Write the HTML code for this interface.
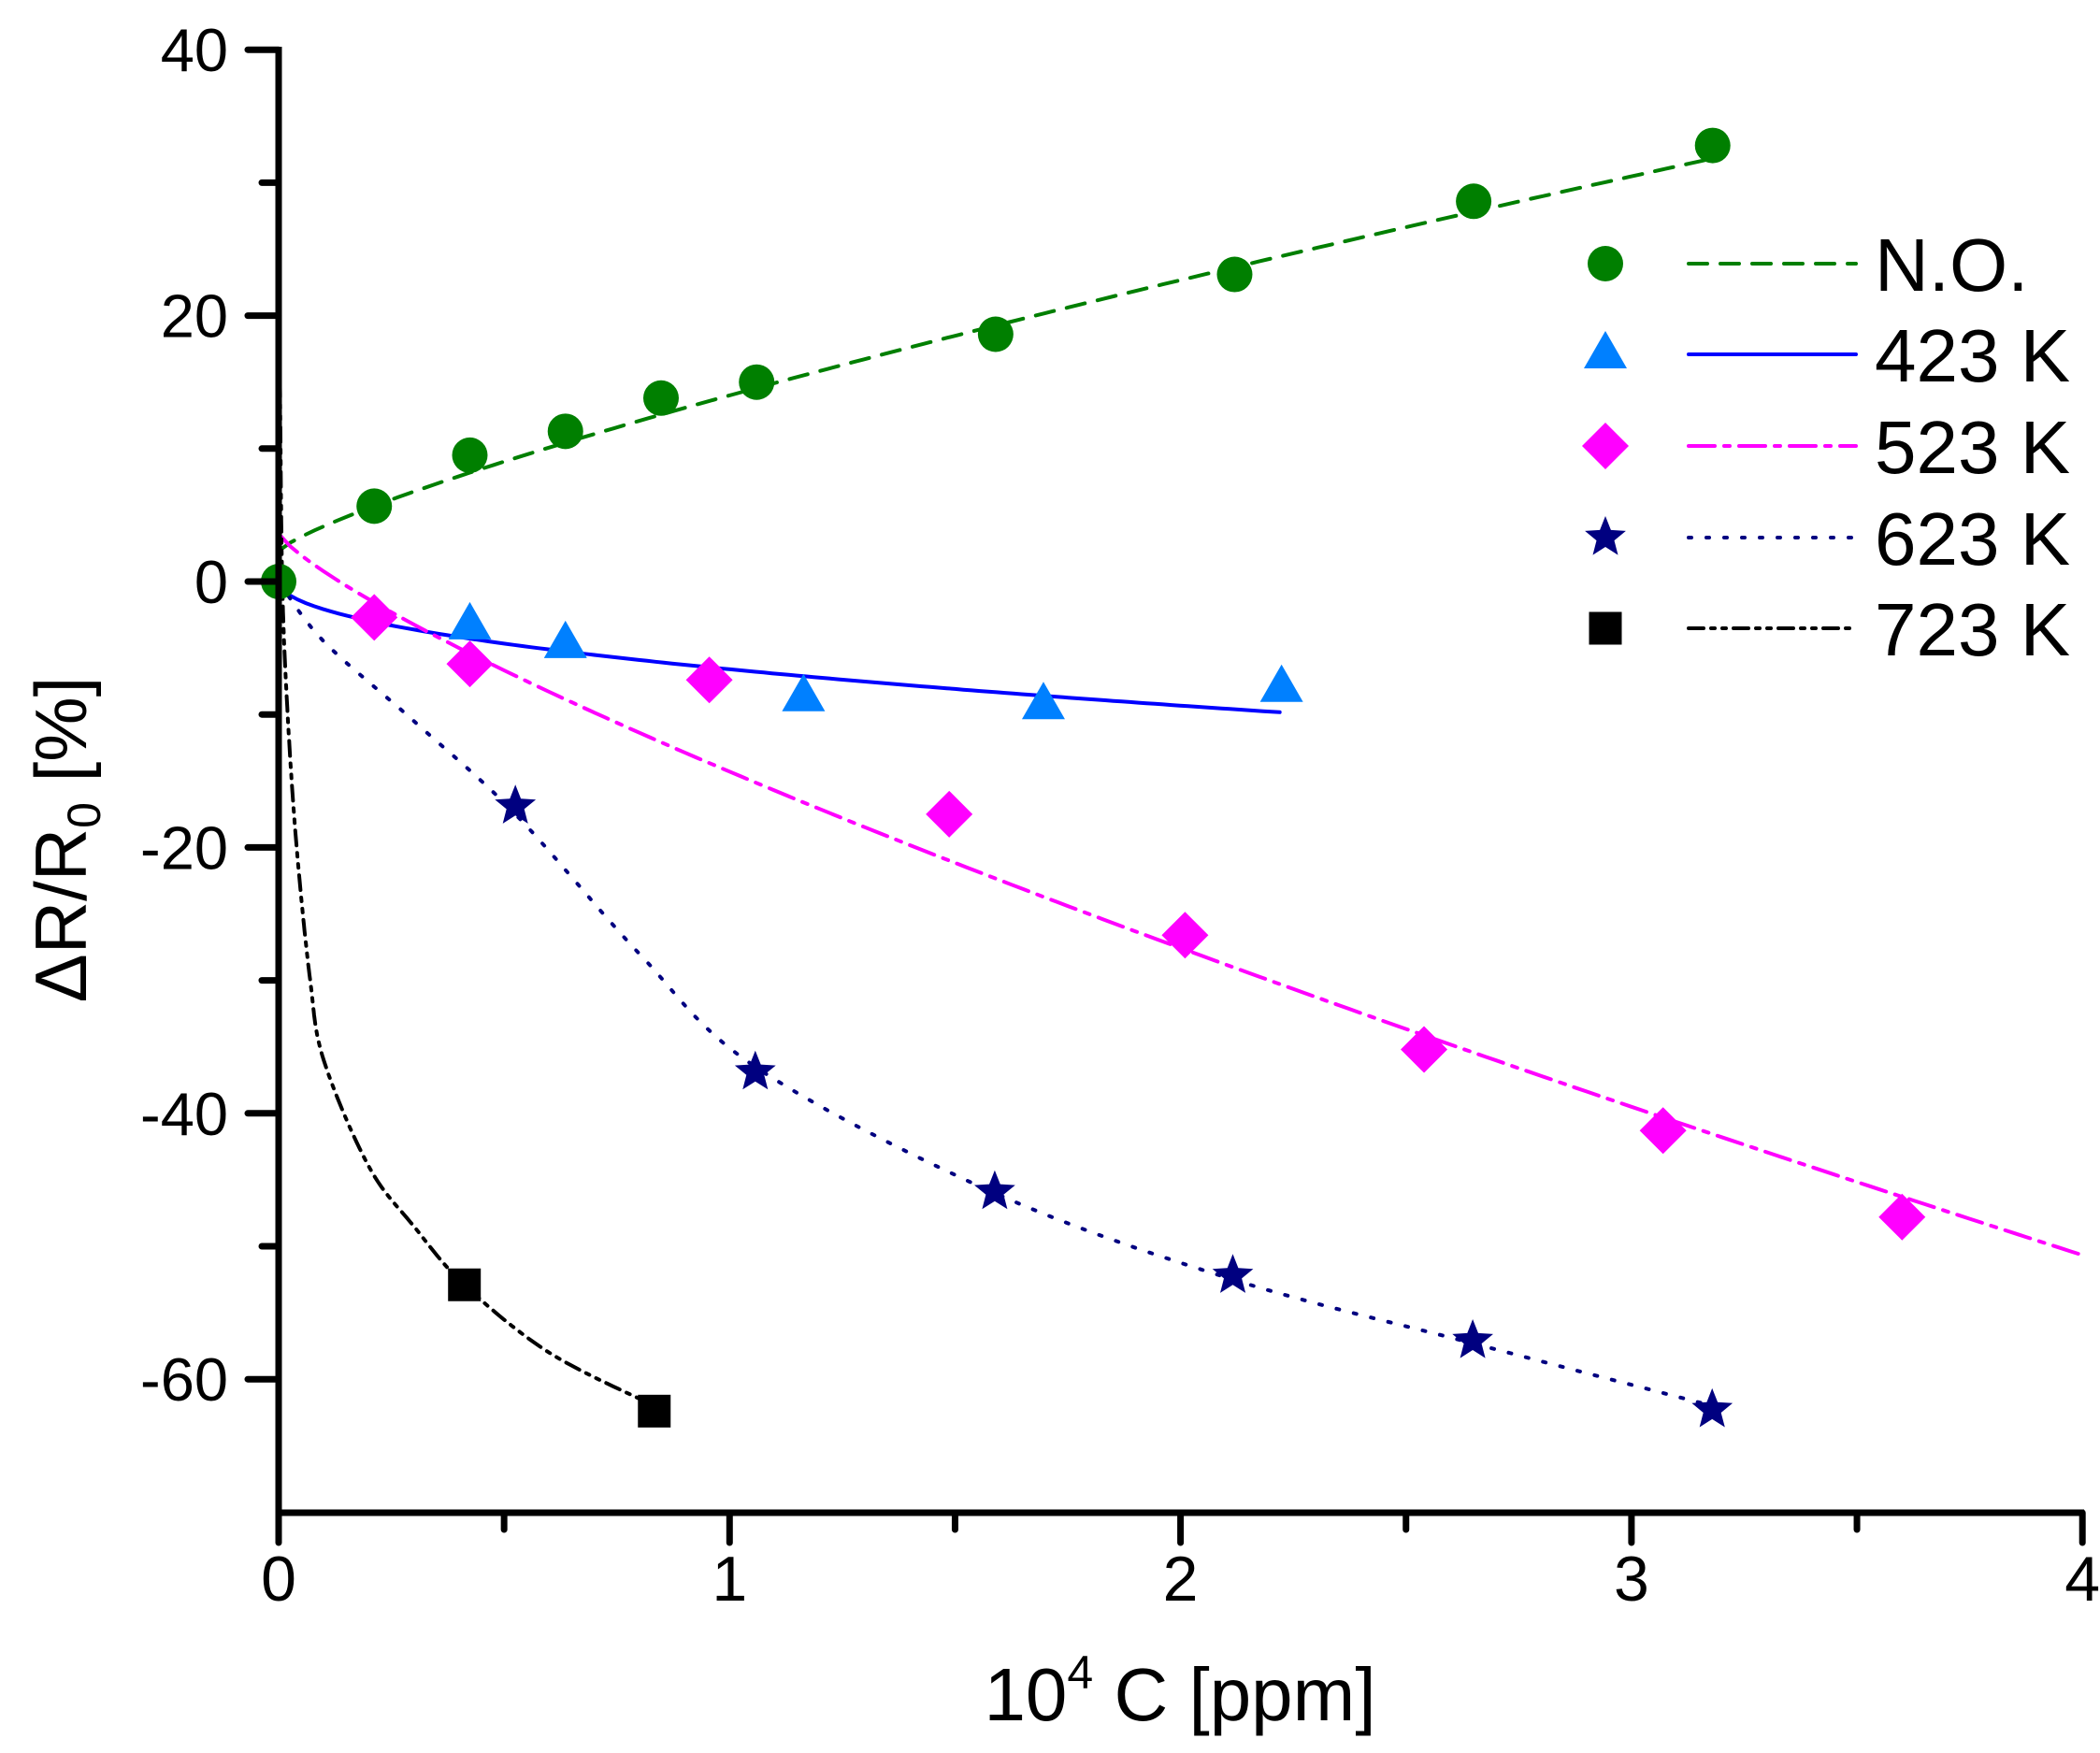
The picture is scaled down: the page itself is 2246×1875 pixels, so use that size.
<!DOCTYPE html>
<html><head><meta charset="utf-8"><style>
html,body{margin:0;padding:0;background:#fff;}
svg{display:block;font-family:"Liberation Sans",Arial,sans-serif;}
</style></head><body>
<svg id="s" width="2246" height="1875" viewBox="0 0 2246 1875" xmlns="http://www.w3.org/2000/svg">
<g id="curves" fill="none" stroke-width="4"></g>
<g id="marks"></g>
<g stroke="#000" stroke-width="7" fill="none">
<line x1="298" y1="50" x2="298" y2="1621"/>
<line x1="295" y1="1618" x2="2229" y2="1618"/>
</g>
<g id="ticks" stroke="#000" stroke-width="7" stroke-linecap="round"></g>
<g id="labels" font-size="65" fill="#000"></g>
<text x="1262" y="1840" font-size="80" text-anchor="middle">10<tspan font-size="50" dy="-34">4</tspan><tspan dy="34"> C [ppm]</tspan></text>
<text transform="translate(92,898) rotate(-90)" font-size="78" text-anchor="middle">ΔR/R<tspan font-size="50" dy="15">0</tspan><tspan dy="-15"> [%]</tspan></text>
<g id="legend" font-size="80"></g>
</svg>
<script>
const NS="http://www.w3.org/2000/svg";
const X=x=>298+482.3*x, Y=y=>622-14.22*y;
function el(p,t,a,txt){const e=document.createElementNS(NS,t);for(const k in a)e.setAttribute(k,a[k]);if(txt!==undefined)e.textContent=txt;p.appendChild(e);return e;}
const C=document.getElementById('curves'),M=document.getElementById('marks'),T=document.getElementById('ticks'),L=document.getElementById('labels'),G=document.getElementById('legend');
for(let v=40;v>=-60;v-=10){const y=Y(v);const maj=v%20===0;el(T,'line',{x1:298-(maj?33:18),y1:y,x2:298,y2:y});if(maj)el(L,'text',{x:244,y:y+23,'text-anchor':'end'},String(v));}
for(let v=0;v<=4;v+=0.5){const x=X(v);const maj=Math.abs(v-Math.round(v))<1e-6;el(T,'line',{x1:x,y1:1618,x2:x,y2:1618+(maj?32:18)});if(maj)el(L,'text',{x:x,y:1712,'text-anchor':'middle','font-size':68},String(v));}
function path(pts,color,dash){let d=pts.map((p,i)=>(i?'L':'M')+X(p[0]).toFixed(1)+','+Y(p[1]).toFixed(1)).join(' ');el(C,'path',{d:d,stroke:color,'stroke-dasharray':dash,'stroke-linecap':'round'});}
function fn(f,a,b,n){const r=[];for(let i=0;i<=n;i++){const x=a+(b-a)*i/n;r.push([x,f(x)]);}return r;}
path(fn(x=>2.3+11.7*Math.pow(x,0.8),0,3.18,120),'#007f00','20 14');
path(fn(x=>-6.6*Math.sqrt(x),0.005,2.22,120),'#0000ff','');
path(fn(x=>3.6-17.9*Math.pow(x,0.8),0,4,160),'#ff00ff','28 10 6 10');
function spline(p){const r=[];for(let i=0;i<p.length-1;i++){const p0=p[Math.max(i-1,0)],p1=p[i],p2=p[i+1],p3=p[Math.min(i+2,p.length-1)];for(let t=0;t<1;t+=0.05){const t2=t*t,t3=t2*t;const f=(a,b,c,d)=>0.5*((2*b)+(-a+c)*t+(2*a-5*b+4*c-d)*t2+(-a+3*b-3*c+d)*t3);r.push([f(p0[0],p1[0],p2[0],p3[0]),f(p0[1],p1[1],p2[1],p3[1])]);}}r.push(p[p.length-1]);return r;}
path(spline([[0,0],[0.1,-4.5],[0.3,-10.5],[0.525,-17.5],[0.8,-28],[1.057,-36.5],[1.588,-46],[2.116,-52.5],[2.648,-57.3],[3.179,-62]]),'#000080','3 16');
path(spline([[0.003,15],[0.008,0],[0.02,-10],[0.04,-20],[0.07,-30],[0.1,-36],[0.2,-44],[0.3,-48.5],[0.412,-52.9],[0.6,-58],[0.833,-62]]),'#000','16 8 4 8 4 8');
function mk(g,type,cx,cy){
 if(type==='c')el(g,'circle',{cx:cx,cy:cy,r:19,fill:'#007f00'});
 else if(type==='t')el(g,'polygon',{points:`${cx},${cy-25} ${cx+23},${cy+15} ${cx-23},${cy+15}`,fill:'#0080ff'});
 else if(type==='d')el(g,'polygon',{points:`${cx},${cy-25} ${cx+25},${cy} ${cx},${cy+25} ${cx-25},${cy}`,fill:'#ff00ff'});
 else if(type==='s'){const p=[];for(let i=0;i<10;i++){const r=i%2?10:23,a=-Math.PI/2+i*Math.PI/5;p.push((cx+r*Math.cos(a)).toFixed(1)+','+(cy+r*Math.sin(a)).toFixed(1));}el(g,'polygon',{points:p.join(' '),fill:'#000080'});}
 else el(g,'rect',{x:cx-17.5,y:cy-17.5,width:35,height:35,fill:'#000'});
}
const data={
 c:[[0,0],[.212,5.67],[.424,9.5],[.636,11.3],[.848,13.8],[1.06,15.0],[1.59,18.6],[2.12,23.1],[2.65,28.6],[3.18,32.8]],
 t:[[.424,-3.3],[.636,-4.7],[1.164,-8.7],[1.696,-9.3],[2.224,-8.0]],
 d:[[.212,-2.7],[.424,-6.2],[.955,-7.4],[1.487,-17.5],[2.01,-26.6],[2.54,-35.2],[3.07,-41.3],[3.6,-47.8]],
 s:[[.525,-16.9],[1.057,-36.9],[1.588,-45.9],[2.116,-52.2],[2.648,-57.1],[3.179,-62.3]],
 q:[[.412,-52.9],[.833,-62.4]]};
for(const k of ['q','s','d','t','c'])for(const p of data[k])mk(M,k,X(p[0]),Y(p[1]));
const rows=[['c','#007f00','20 14','N.O.',282],['t','#0000ff','','423 K',379],['d','#ff00ff','28 10 6 10','523 K',477],['s','#000080','3 16','623 K',575],['q','#000','16 8 4 8 4 8','723 K',672]];
for(const r of rows){mk(G,r[0],1717,r[4]);el(G,'line',{x1:1806,y1:r[4],x2:1985,y2:r[4],stroke:r[1],'stroke-width':4,'stroke-dasharray':r[2],'stroke-linecap':'round'});el(G,'text',{x:2005,y:r[4]+29},r[3]);}
</script>
</body></html>
